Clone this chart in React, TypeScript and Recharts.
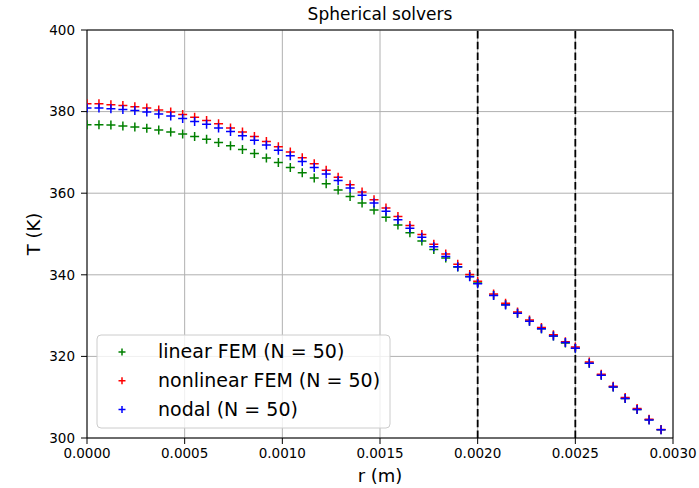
import React from 'react';
import { ScatterChart, Scatter, XAxis, YAxis, CartesianGrid, ReferenceLine } from 'recharts';

const R = [
  0, 0.0000612, 0.0001224, 0.0001837, 0.0002449, 0.0003061, 0.0003673, 0.0004286, 0.0004898, 0.000551,
  0.0006122, 0.0006735, 0.0007347, 0.0007959, 0.0008571, 0.0009184, 0.0009796, 0.0010408, 0.001102, 0.0011633,
  0.0012245, 0.0012857, 0.0013469, 0.0014082, 0.0014694, 0.0015306, 0.0015918, 0.0016531, 0.0017143, 0.0017755,
  0.0018367, 0.001898, 0.0019592, 0.002, 0.0020816, 0.0021429, 0.0022041, 0.0022653, 0.0023265, 0.0023878,
  0.002449, 0.0025, 0.0025714, 0.0026327, 0.0026939, 0.0027551, 0.0028163, 0.0028776, 0.0029388,
];

const T_LINEAR = [
  376.8, 376.8, 376.7, 376.5, 376.2, 375.9, 375.5, 375.0, 374.5, 373.9,
  373.2, 372.4, 371.6, 370.7, 369.7, 368.6, 367.5, 366.3, 365.0, 363.7,
  362.3, 360.8, 359.2, 357.6, 355.9, 354.1, 352.2, 350.3, 348.3, 346.2,
  344.1, 341.9, 339.6, 338.0, 335.0, 332.7, 330.6, 328.6, 326.8, 325.0,
  323.3, 322.0, 318.3, 315.4, 312.5, 309.7, 307.0, 304.5, 302.0,
];

const T_NONLINEAR = [
  381.9, 381.9, 381.7, 381.5, 381.2, 380.9, 380.4, 379.9, 379.3, 378.6,
  377.8, 377.0, 376.0, 375.0, 373.9, 372.7, 371.4, 370.1, 368.7, 367.2,
  365.6, 363.9, 362.1, 360.3, 358.4, 356.4, 354.3, 352.1, 349.9, 347.5,
  345.1, 342.6, 340.1, 338.4, 335.3, 333.0, 330.9, 328.9, 327.1, 325.3,
  323.6, 322.3, 318.6, 315.6, 312.7, 309.9, 307.2, 304.6, 302.1,
];

const T_NODAL = [
  380.9, 380.9, 380.7, 380.5, 380.3, 379.9, 379.4, 378.9, 378.3, 377.6,
  376.9, 376.0, 375.1, 374.1, 373.0, 371.8, 370.5, 369.2, 367.8, 366.3,
  364.7, 363.1, 361.3, 359.5, 357.6, 355.6, 353.5, 351.4, 349.2, 346.9,
  344.5, 342.0, 339.5, 337.8, 334.9, 332.6, 330.6, 328.6, 326.8, 325.0,
  323.4, 322.0, 318.3, 315.4, 312.5, 309.7, 307.0, 304.4, 302.0,
];

const X_TICKS = [0, 0.0005, 0.001, 0.0015, 0.002, 0.0025, 0.003];
const Y_TICKS = [300, 320, 340, 360, 380, 400];
const INTERFACES = [0.002, 0.0025];

const SERIES = [
  { name: 'linear FEM (N = 50)', color: '#008000', values: T_LINEAR },
  { name: 'nonlinear FEM (N = 50)', color: '#ff0000', values: T_NONLINEAR },
  { name: 'nodal (N = 50)', color: '#0000ff', values: T_NODAL },
];

const FONT = '"DejaVu Sans", sans-serif';

const makeCross = (color: string, s: number) => (props: any) => {
  const { cx, cy } = props;
  if (cx == null || cy == null) return <g />;
  return (
    <path
      d={`M${cx - s},${cy}H${cx + s}M${cx},${cy - s}V${cy + s}`}
      stroke={color}
      strokeWidth={1.5}
      fill="none"
    />
  );
};

export default function App() {
  const W = 699;
  const H = 488;
  return (
    <div style={{ position: 'absolute', left: 0, top: 0, width: W, height: H, background: '#fff', overflow: 'hidden' }}>
      <ScatterChart width={W} height={H} margin={{ top: 30, right: 26, bottom: 0, left: 0 }}>
        <CartesianGrid stroke="#b0b0b0" strokeWidth={1} />
        <XAxis
          dataKey="r"
          type="number"
          domain={[0, 0.003]}
          ticks={X_TICKS}
          allowDataOverflow
          height={50}
          tickFormatter={(v: number) => v.toFixed(4)}
          tick={{ fill: '#000', fontSize: 13.5, fontFamily: FONT }}
          tickSize={6}
          tickMargin={4}
          stroke="#000"
          interval={0}
        />
        <YAxis
          dataKey="T"
          type="number"
          domain={[300, 400]}
          ticks={Y_TICKS}
          allowDataOverflow
          width={87}
          tick={{ fill: '#000', fontSize: 13.5, fontFamily: FONT }}
          tickSize={6}
          tickMargin={6}
          stroke="#000"
          interval={0}
        />
        <ReferenceLine y={400} stroke="#000" strokeWidth={1} />
        <ReferenceLine x={0.003} stroke="#000" strokeWidth={1} />
        {SERIES.map((s) => (
          <Scatter
            key={s.name}
            name={s.name}
            data={R.map((r, i) => ({ r, T: s.values[i] }))}
            fill={s.color}
            shape={makeCross(s.color, 4.5)}
            isAnimationActive={false}
          />
        ))}
        {INTERFACES.map((x) => (
          <ReferenceLine key={x} x={x} stroke="#000" strokeWidth={1.8} strokeDasharray="7.5 3.3" />
        ))}
      </ScatterChart>
      <svg
        width={W}
        height={H}
        style={{ position: 'absolute', left: 0, top: 0, pointerEvents: 'none' }}
      >
        <text x={380} y={19.5} textAnchor="middle" fontFamily={FONT} fontSize={17} fill="#000">
          Spherical solvers
        </text>
        <text x={380} y={482} textAnchor="middle" fontFamily={FONT} fontSize={18} fill="#000">
          r (m)
        </text>
        <text
          transform="translate(40,234) rotate(-90)"
          textAnchor="middle"
          fontFamily={FONT}
          fontSize={18}
          fill="#000"
        >
          T (K)
        </text>
        <rect
          x={97}
          y={335}
          width={293}
          height={93}
          rx={4}
          fill="#fff"
          fillOpacity={0.8}
          stroke="#cccccc"
          strokeWidth={1}
        />
        {SERIES.map((s, i) => {
          const cy = 352 + i * 28.7;
          return (
            <g key={s.name}>
              <path
                d={`M${122 - 3.5},${cy}H${122 + 3.5}M122,${cy - 3.5}V${cy + 3.5}`}
                stroke={s.color}
                strokeWidth={1.5}
              />
              <text x={158} y={cy + 6.3} fontFamily={FONT} fontSize={19} fill="#000">
                {s.name}
              </text>
            </g>
          );
        })}
      </svg>
    </div>
  );
}
